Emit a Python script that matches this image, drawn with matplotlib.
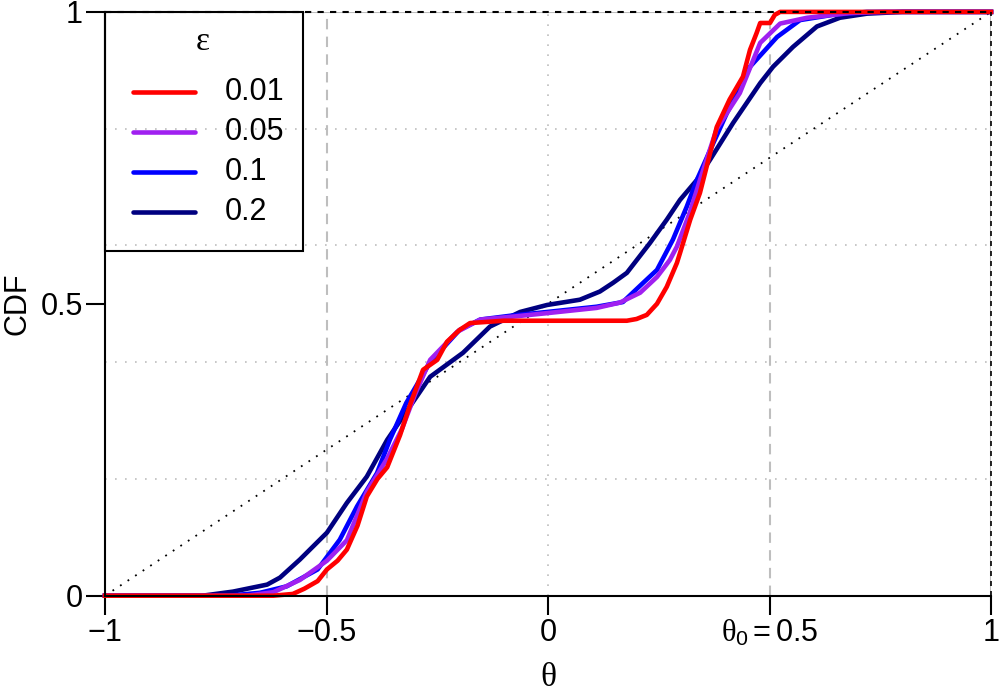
import numpy as np
import matplotlib.pyplot as plt
from matplotlib.patches import Rectangle

plt.rcParams['font.family'] = ['Liberation Sans', 'DejaVu Sans']
plt.rcParams['mathtext.fontset'] = 'custom'
plt.rcParams['mathtext.rm'] = 'Liberation Sans'
plt.rcParams['mathtext.it'] = 'Liberation Serif'

eps_labels = ['0.01', '0.05', '0.1', '0.2']
colors = ['red', '#A020F0', 'blue', '#000080']

theta_001 = [-1, -0.62, -0.576, -0.55, -0.52, -0.499, -0.475, -0.454, -0.43, -0.409,
             -0.385, -0.363, -0.334, -0.31, -0.282, -0.25, -0.228, -0.2, -0.176, -0.1,
             0.0, 0.1, 0.178, 0.2, 0.223, 0.246, 0.268, 0.291, 0.298, 0.321, 0.343,
             0.381, 0.41, 0.44, 0.456, 0.471, 0.479, 0.501, 0.512, 0.524, 1.0]
cdf_001 = [0, 0, 0.003, 0.012, 0.025, 0.045, 0.06, 0.079, 0.12, 0.17,
           0.2, 0.22, 0.275, 0.33, 0.387, 0.404, 0.435, 0.455, 0.467, 0.471,
           0.471, 0.471, 0.471, 0.474, 0.481, 0.50, 0.529, 0.57, 0.587, 0.644, 0.69,
           0.803, 0.85, 0.889, 0.935, 0.964, 0.981, 0.981, 0.995, 1.0, 1.0]

theta_005 = [-1, -0.68, -0.62, -0.56, -0.499, -0.454, -0.409, -0.363, -0.33, -0.3,
             -0.266, -0.205, -0.153, -0.08, -0.002, 0.11, 0.162, 0.208, 0.246, 0.275,
             0.291, 0.32, 0.343, 0.381, 0.433, 0.479, 0.524, 0.585, 0.68, 0.76, 1]
cdf_005 = [0, 0, 0.006, 0.027, 0.06, 0.095, 0.178, 0.235, 0.285, 0.345,
           0.404, 0.452, 0.473, 0.478, 0.484, 0.493, 0.502, 0.519, 0.546, 0.575,
           0.598, 0.656, 0.712, 0.80, 0.861, 0.947, 0.98, 0.99, 0.998, 1.0, 1.0]

theta_01 = [-1, -0.72, -0.65, -0.59, -0.52, -0.47, -0.431, -0.386, -0.357, -0.32,
            -0.266, -0.2, -0.153, -0.08, -0.002, 0.11, 0.169, 0.215, 0.246, 0.282,
            0.313, 0.336, 0.37, 0.404, 0.456, 0.517, 0.569, 0.643, 0.72, 1]
cdf_01 = [0, 0, 0.005, 0.016, 0.045, 0.096, 0.153, 0.21, 0.267, 0.33,
          0.40, 0.455, 0.473, 0.48, 0.486, 0.495, 0.503, 0.536, 0.558, 0.61,
          0.666, 0.712, 0.77, 0.827, 0.906, 0.957, 0.986, 0.995, 1.0, 1.0]

theta_02 = [-1, -0.78, -0.711, -0.634, -0.605, -0.56, -0.499, -0.454, -0.409, -0.363,
            -0.266, -0.192, -0.131, -0.063, -0.002, 0.072, 0.117, 0.147, 0.178, 0.23,
            0.268, 0.298, 0.336, 0.366, 0.418, 0.479, 0.508, 0.553, 0.607, 0.659,
            0.72, 0.8, 1]
cdf_02 = [0, 0, 0.007, 0.019, 0.031, 0.062, 0.108, 0.159, 0.204, 0.267,
          0.375, 0.416, 0.461, 0.486, 0.498, 0.507, 0.521, 0.536, 0.553, 0.604,
          0.644, 0.678, 0.712, 0.747, 0.81, 0.878, 0.906, 0.94, 0.975, 0.99,
          0.997, 1.0, 1.0]

series = [(theta_001, cdf_001), (theta_005, cdf_005), (theta_01, cdf_01), (theta_02, cdf_02)]

x_ticks = [-1, -0.5, 0, 0.5, 1]
x_ticklabels = ['\u22121', '\u22120.5', '0', r'$\theta_0 = 0.5$', '1']
y_ticks = [0, 0.5, 1]
y_ticklabels = ['0', '0.5', '1']
grid_y = [0.2, 0.4, 0.6, 0.8]

fig = plt.figure(figsize=(10, 7), dpi=100)
ax = fig.add_axes([0.105, 0.149, 0.886, 0.834])
ax.set_xlim(-1, 1)
ax.set_ylim(0, 1)

# background guides
for g in grid_y:
    ax.axhline(g, color='#BEBEBE', lw=1.2, ls=(0, (1, 5)), zorder=0)
ax.axvline(0, color='#BEBEBE', lw=1.2, ls=(0, (1, 5)), zorder=0)
for v in [-0.5, 0.5]:
    ax.axvline(v, color='#BEBEBE', lw=1.5, ls=(0, (5, 3.5)), zorder=0)
ax.axhline(1, color='#BEBEBE', lw=1.5, zorder=0.5)
ax.axhline(1, color='black', lw=1.5, ls=(0, (3, 3)), zorder=5, clip_on=False)
ax.axvline(1, color='#BEBEBE', lw=1.5, zorder=0.5)
ax.axvline(1, color='black', lw=1.2, ls=(0, (3, 3)), zorder=5, clip_on=False)

# uniform reference
ax.plot([-1, 1], [0, 1], color='black', lw=1.3, ls=(0, (1, 4)), zorder=1)

for (th, cd), c in reversed(list(zip(series, colors))):
    ax.plot(th, cd, color=c, lw=3.3, clip_on=False, zorder=2)

for s in ['top', 'right']:
    ax.spines[s].set_visible(False)
for s in ['left', 'bottom']:
    ax.spines[s].set_linewidth(1.5)
    ax.spines[s].set_zorder(6)

ax.set_xticks(x_ticks)
ax.set_xticklabels(x_ticklabels)
ax.set_yticks(y_ticks)
ax.set_yticklabels(y_ticklabels)
ax.tick_params(direction='out', length=14, width=1.5, pad=2, labelsize=22)

ax.set_ylabel('CDF', fontsize=22)
ax.yaxis.set_label_coords(-0.082, 0.5)
ax.set_xlabel('\u03b8', fontsize=24, family='Liberation Serif')
ax.xaxis.set_label_coords(0.5, -0.115)

# legend drawn by hand in axes fraction so the spacing follows the original
tr = ax.transAxes
box_w, box_h = 198 / 886, 239 / 584
ax.add_patch(Rectangle((0, 1 - box_h), box_w, box_h, transform=tr, fill=False,
                       edgecolor='black', lw=1.5, zorder=7, clip_on=False))
ax.text(98 / 886, 1 - 30 / 584, '\u03b5', transform=tr, ha='center', va='center',
        fontsize=24, family='Liberation Serif', zorder=7)
for i, (lab, c) in enumerate(zip(eps_labels, colors)):
    yy = 1 - (80 + 40 * i) / 584
    ax.plot([28 / 886, 90 / 886], [yy, yy], transform=tr, color=c, lw=3.3,
            solid_capstyle='round', clip_on=False, zorder=7)
    ax.text(120 / 886, yy, lab, transform=tr, ha='left', va='center',
            fontsize=22, zorder=7)

fig.savefig('out.png', dpi=100)
